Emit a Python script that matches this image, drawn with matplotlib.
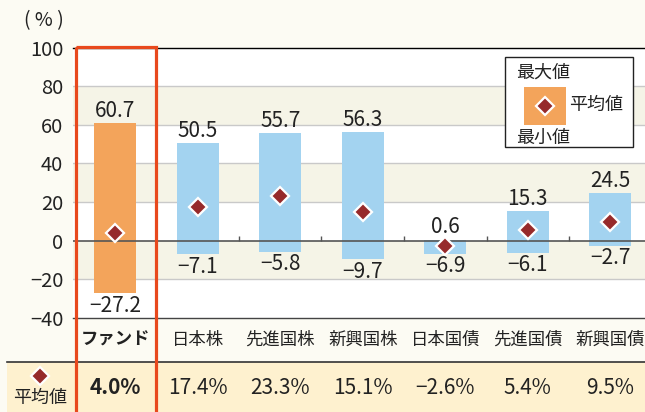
import matplotlib
matplotlib.use("Agg")
import matplotlib.pyplot as plt
from matplotlib.patches import Rectangle
import numpy as np

plt.rcParams['font.family'] = ['Noto Sans CJK JP', 'DejaVu Sans']

categories = ['ファンド', '日本株', '先進国株', '新興国株', '日本国債', '先進国債', '新興国債']
max_vals = [60.7, 50.5, 55.7, 56.3, 0.6, 15.3, 24.5]
min_vals = [-27.2, -7.1, -5.8, -9.7, -6.9, -6.1, -2.7]
mean_vals = [4.0, 17.4, 23.3, 15.1, -2.6, 5.4, 9.5]
yticks = [-40, -20, 0, 20, 40, 60, 80, 100]

W, H = 645, 412
BG = '#fcfbf3'
ROW = '#fef1cf'
ORANGE = '#f3a45b'
BLUE = '#a3d3f0'
DIAMOND = '#962a2b'
RED = '#e8491d'
BAND = '#f5f4e7'

fig = plt.figure(figsize=(W / 100, H / 100), dpi=100, facecolor=BG)

def px_axes(x0, y0, x1, y1):
    return [x0 / W, 1 - y1 / H, (x1 - x0) / W, (y1 - y0) / H]

# background axes (pixel coordinates)
bg = fig.add_axes([0, 0, 1, 1], zorder=0)
bg.set_xlim(0, W)
bg.set_ylim(H, 0)
bg.axis('off')
bg.add_patch(Rectangle((7, 362), W, 60, facecolor=ROW, edgecolor='none'))
bg.plot([7, W], [362, 362], color='#333333', lw=1.2)

# main axes
ax = fig.add_axes(px_axes(73, 47.5, 645, 318), zorder=1)
ax.set_facecolor('white')
ax.set_ylim(-40, 100)
ax.set_xlim(-0.51, 6.42)
for lo, hi in [(60, 80), (20, 40), (-20, 0)]:
    ax.axhspan(lo, hi, color=BAND, zorder=0, lw=0)
for yv in [-20, 20, 40, 60, 80]:
    ax.axhline(yv, color='#c9c9c9', lw=1, zorder=0.5)

x = np.arange(len(categories))
colors = [ORANGE] + [BLUE] * (len(categories) - 1)
heights = np.array(max_vals) - np.array(min_vals)
ax.bar(x, heights, bottom=min_vals, width=0.51, color=colors, zorder=2)
ax.axhline(0, color='#555555', lw=1.2, zorder=3)
ax.vlines(x[:-1] + 0.5, 0, 2.2, color='#555555', lw=1, zorder=3)
ax.plot(x, mean_vals, linestyle='none', marker='D', ms=9, mfc=DIAMOND,
        mec='white', mew=1.6, zorder=4)

for xi, mx, mn in zip(x, max_vals, min_vals):
    ax.annotate(f'{mx:.1f}'.replace('-', '−'), (xi, mx), xytext=(0, 1),
                textcoords='offset points', ha='center', va='bottom', fontsize=15,
                color='#222222', zorder=5)
    ax.annotate(f'{mn:.1f}'.replace('-', '−'), (xi, mn), xytext=(0, -1),
                textcoords='offset points', ha='center', va='top', fontsize=15,
                color='#222222', zorder=5)

ax.set_yticks(yticks)
ax.set_yticklabels([str(v).replace('-', '−') for v in yticks], fontsize=14.5,
                   color='#222222')
ax.tick_params(axis='y', length=0, pad=7)
ax.set_xticks([])
for s in ['left', 'right']:
    ax.spines[s].set_visible(False)
ax.spines['top'].set_color('black')
ax.spines['top'].set_linewidth(1)
ax.spines['bottom'].set_color('#444444')
ax.spines['bottom'].set_linewidth(1)

# category labels and mean row, placed with data x
trans = ax.get_xaxis_transform()
axh = 318 - 47.5
for i, (c, m) in enumerate(zip(categories, mean_vals)):
    bold = 'bold' if i == 0 else 'normal'
    ax.text(i, -(340 - 318) / axh, c, transform=trans, ha='center', va='center',
            fontsize=12.5, fontweight=bold, color='#222222', clip_on=False)
    ax.text(i, -(388 - 318) / axh, f'{m:.1f}%'.replace('-', '−'), transform=trans,
            ha='center', va='center', fontsize=15, fontweight=bold,
            color='#222222', clip_on=False)

# overlay axes in pixel coordinates
ov = fig.add_axes([0, 0, 1, 1], zorder=3)
ov.set_xlim(0, W)
ov.set_ylim(H, 0)
ov.axis('off')
ov.patch.set_alpha(0)
ov.text(44, 21, '( % )', ha='center', va='center', fontsize=14, color='#222222')
ov.add_patch(Rectangle((75.5, 47), 80.5, 380, facecolor='none', edgecolor=RED,
                       lw=2.3, clip_on=False))
ov.plot([40], [376], linestyle='none', marker='D', ms=9, mfc=DIAMOND,
        mec='white', mew=1.6)
ov.text(40, 398, '平均値', ha='center', va='center', fontsize=13, color='#222222')

# legend box
ov.add_patch(Rectangle((505, 57), 128, 90, facecolor='white', edgecolor='#222222',
                       lw=1))
ov.add_patch(Rectangle((524, 87), 42, 38, facecolor=ORANGE, edgecolor='none'))
ov.plot([545], [106], linestyle='none', marker='D', ms=9, mfc=DIAMOND,
        mec='white', mew=1.6)
ov.text(516, 73, '最大値', ha='left', va='center', fontsize=13, color='#222222')
ov.text(569, 105, '平均値', ha='left', va='center', fontsize=13, color='#222222')
ov.text(516, 138, '最小値', ha='left', va='center', fontsize=13, color='#222222')

fig.savefig('out.png', dpi=100, facecolor=BG)
